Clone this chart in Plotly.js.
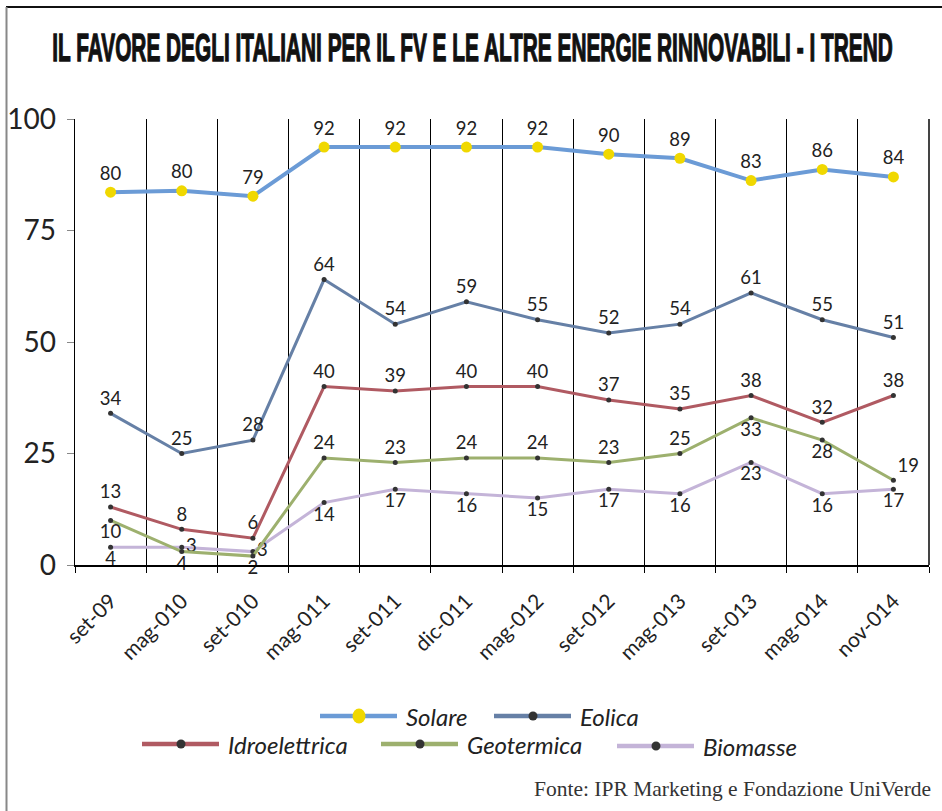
<!DOCTYPE html>
<html><head><meta charset="utf-8">
<script src="https://cdn.plot.ly/plotly-3.0.1.min.js"></script>
<style>html,body{margin:0;padding:0;background:#fff;}#chart{width:942px;height:811px;}</style>
</head><body><div id="chart"></div><script>
// ---- data ----
const categories = ['set-09','mag-010','set-010','mag-011','set-011','dic-011','mag-012','set-012','mag-013','set-013','mag-014','nov-014'];
const solare = [83.6, 83.9, 82.7, 93.7, 93.7, 93.7, 93.7, 92.1, 91.2, 86.2, 88.7, 87.0];
const solareLabels = ['80','80','79','92','92','92','92','90','89','83','86','84'];
const eolica = [34, 25, 28, 64, 54, 59, 55, 52, 54, 61, 55, 51];
const eolicaLabels = ['34','25','28','64','54','59','55','52','54','61','55','51'];
const idroelettrica = [13, 8, 6, 40, 39, 40, 40, 37, 35, 38, 32, 38];
const idroelettricaLabels = ['13','8','6','40','39','40','40','37','35','38','32','38'];
const geotermica = [10, 3, 2, 24, 23, 24, 24, 23, 25, 33, 28, 19];
const geotermicaLabels = ['10','4','2','24','23','24','24','23','25','33','28','19'];
const biomasse = [4, 4, 3, 14, 17, 16, 15, 17, 16, 23, 16, 17];
const biomasseLabels = ['4','3','3','14','17','16','15','17','16','23','16','17'];
const seriesNames = ['Solare','Eolica','Idroelettrica','Geotermica','Biomasse'];
const yTicks = [0, 25, 50, 75, 100];

// ---- styles ----
const colors = ['#6b9bd6','#6680a6','#b05a62','#9db06e','#c4b4d8'];
const lineWidths = [4, 3, 3, 3, 3];
const dotColor = '#333333';
const solareMarker = '#f0d800';
const labelFont = {family:'Lato, sans-serif', size:18.5, color:'#222'};

const tc = 'top center', bc = 'bottom center', mr = 'middle right', tr = 'top right';
const posSolare = categories.map(()=>tc);
const posEolica = categories.map(()=>tc);
const posIdro = categories.map(()=>tc);
const posGeo = [bc,bc,bc,tc,tc,tc,tc,tc,tc,bc,bc,tr];
const posBio = [bc,mr,mr,bc,bc,bc,bc,bc,bc,bc,bc,bc];

const ys = [solare, eolica, idroelettrica, geotermica, biomasse];
const texts = [solareLabels, eolicaLabels, idroelettricaLabels, geotermicaLabels, biomasseLabels];
const poss = [posSolare, posEolica, posIdro, posGeo, posBio];

const traces = [];
[4,3,2,1,0].forEach(i => {
  traces.push({
    type:'scatter', mode:'lines+markers+text', x:categories, y:ys[i], name:seriesNames[i],
    text:texts[i], textposition:poss[i], textfont:labelFont, cliponaxis:false,
    line:{color:colors[i], width:lineWidths[i]},
    marker: i===0 ? {color:solareMarker, size:11} : {color:dotColor, size:5},
    hoverinfo:'skip', showlegend:false
  });
});

// ---- pixel -> paper helpers (layout only) ----
const PX0=75, PW=854, PY0=565, PH=446;
const fx = p => (p-PX0)/PW;
const fy = q => (PY0-q)/PH;

const shapes = [
  {type:'line', xref:'paper', yref:'paper', x0:1, x1:1, y0:0, y1:1, line:{color:'#444', width:2}},
  {type:'line', xref:'paper', yref:'paper', x0:fx(6), x1:fx(942), y0:fy(7), y1:fy(7), line:{color:'#111', width:2}},
  {type:'line', xref:'paper', yref:'paper', x0:fx(6.5), x1:fx(6.5), y0:fy(7), y1:fy(811), line:{color:'#888', width:2}}
];
const annotations = [];
const legendPos = [{x:320,y:716},{x:494,y:716},{x:142,y:744},{x:381,y:744},{x:617,y:746}];
seriesNames.forEach((n,i) => {
  const p = legendPos[i];
  shapes.push({type:'line', xref:'paper', yref:'paper', x0:fx(p.x), x1:fx(p.x+77), y0:fy(p.y), y1:fy(p.y), line:{color:colors[i], width:4.5}});
  if (i===0) {
    shapes.push({type:'circle', xref:'paper', yref:'paper', x0:fx(p.x+39-6.5), x1:fx(p.x+39+6.5), y0:fy(p.y-7.5), y1:fy(p.y+7.5), fillcolor:solareMarker, line:{width:0}});
  } else {
    shapes.push({type:'circle', xref:'paper', yref:'paper', x0:fx(p.x+39-4.5), x1:fx(p.x+39+4.5), y0:fy(p.y-4.5), y1:fy(p.y+4.5), fillcolor:dotColor, line:{width:0}});
  }
  annotations.push({xref:'paper', yref:'paper', x:fx(p.x+84), y:fy(p.y), xanchor:'left', yanchor:'middle', showarrow:false,
    text:n, font:{family:'Lato, sans-serif', size:24, style:'italic', color:'#222'}});
});
annotations.push({xref:'paper', yref:'paper', x:fx(933), y:fy(789), xanchor:'right', yanchor:'middle', showarrow:false,
  text:'Fonte: IPR Marketing e Fondazione UniVerde', font:{family:'Liberation Serif, serif', size:21.5, color:'#333'}});

const layout = {
  width:942, height:811, paper_bgcolor:'#fff', plot_bgcolor:'#fff',
  margin:{l:75, r:13, t:119, b:246},
  title:{text:'IL FAVORE DEGLI ITALIANI PER IL FV E LE ALTRE ENERGIE RINNOVABILI - I TREND',
    font:{family:'Liberation Sans Narrow, sans-serif', size:38, weight:700, color:'#111'},
    x:472.5/942, xanchor:'center', xref:'container', y:1-48/811, yanchor:'middle', yref:'container'},
  xaxis:{type:'category', categoryorder:'array', categoryarray:categories, range:[-0.5, categories.length-0.5],
    tickson:'boundaries', ticks:'outside', ticklen:6, tickcolor:'#000', tickwidth:1,
    showgrid:true, gridcolor:'#000', gridwidth:1,
    showline:true, linecolor:'#000', linewidth:1.5, zeroline:false,
    tickangle:-45, ticklabelstandoff:14, tickfont:{family:'Lato, sans-serif', size:21, color:'#222'}},
  yaxis:{range:[0,100], tickvals:yTicks, ticktext:yTicks.map(String), ticks:'outside', ticklen:7, tickcolor:'#888',
    showline:true, linecolor:'#000', linewidth:1.5, showgrid:false, zeroline:false,
    ticklabelstandoff:5, tickfont:{family:'Lato, sans-serif', size:28, color:'#222'}},
  shapes:shapes, annotations:annotations, showlegend:false
};

Plotly.newPlot('chart', traces, layout, {staticPlot:true}).then(gd => {
  const t = gd.querySelector('.gtitle');
  if (t) {
    const w = t.getComputedTextLength();
    const s = 841 / w;
    const cx = 472.5;
    const prev = t.getAttribute('transform') || '';
    t.setAttribute('transform', prev + ` translate(${cx},0) scale(${s},1) translate(${-cx},0)`);
    t.style.stroke = '#111';
    t.style.strokeWidth = (0.7 / s).toFixed(2) + 'px';
  }
});
</script></body></html>
